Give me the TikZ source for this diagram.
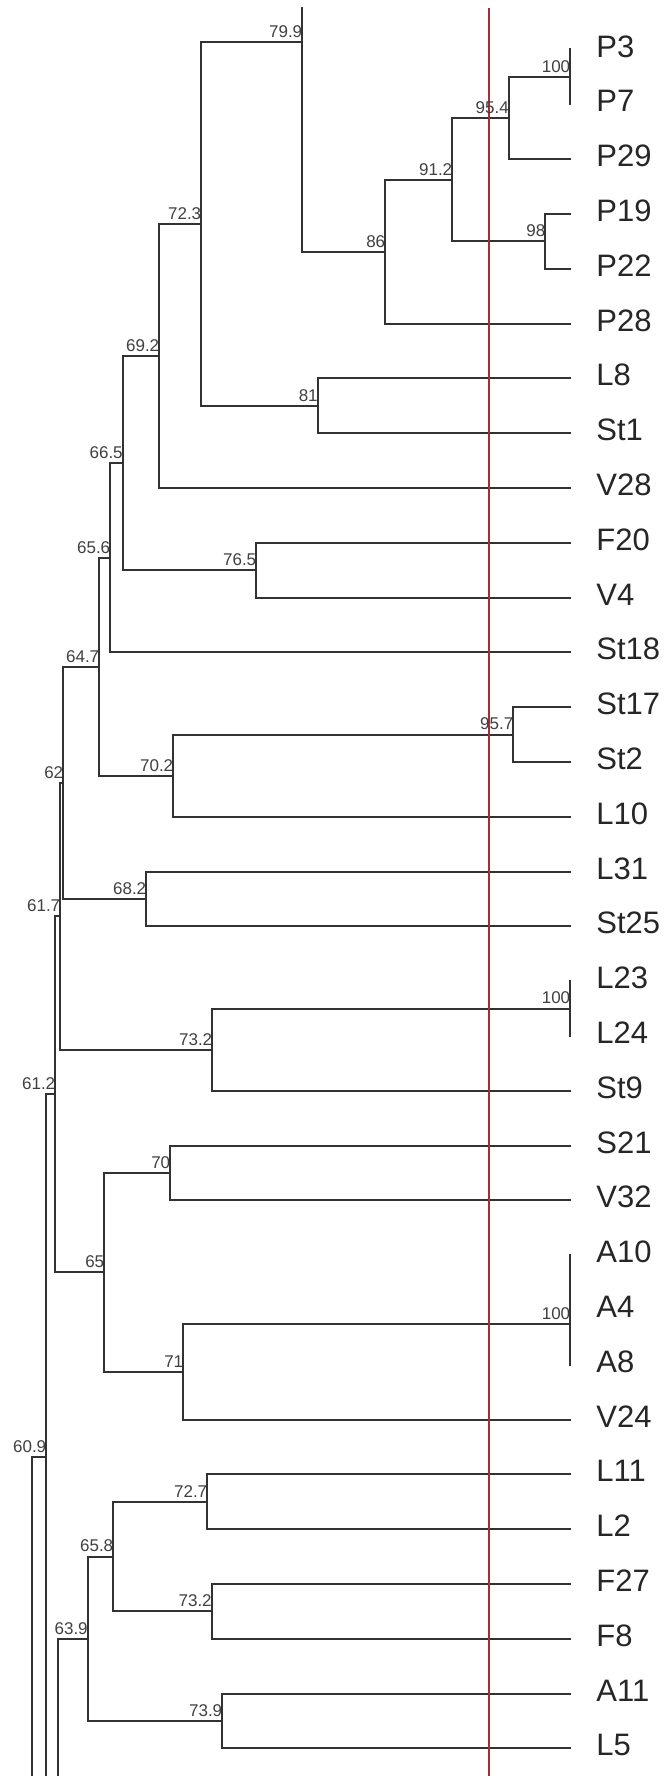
\documentclass[tikz,border=0pt]{standalone}
\usepackage{fontspec}
\setmainfont{Liberation Sans}
\usepackage{xcolor}
\definecolor{branchgray}{RGB}{50,50,50}
\definecolor{cutred}{RGB}{165,45,55}

\begin{document}
\begin{tikzpicture}[
  x=0.5pt, y=-0.5pt,
  branch/.style={draw=branchgray, line width=1pt, line cap=rect},
  leaf/.style={anchor=west, inner sep=0pt, text=black!85, font=\fontsize{15.5}{18}\selectfont},
  val/.style={anchor=south east, inner sep=0pt, xshift=0.3pt, yshift=2pt, text=black!75, font=\fontsize{8.5}{10}\selectfont},
  cutline/.style={draw=cutred, line width=0.8pt},
]
\useasboundingbox[fill=white] (0,0) rectangle (670,1776);

% leaves, top to bottom
\foreach \name [count=\i from 0] in {P3,P7,P29,P19,P22,P28,L8,St1,V28,F20,V4,St18,St17,St2,L10,L31,St25,L23,L24,St9,S21,V32,A10,A4,A8,V24,L11,L2,F27,F8,A11,L5}{
  \coordinate (\name) at (570,{49.5+54.8*\i});
  \node[leaf] (lab\name) at ([xshift=13pt,yshift=1.5pt]\name) {\name};
}

% internal nodes
\coordinate (n100a) at (570,76.9);
\coordinate (n954) at (508.5,118);
\coordinate (n98) at (545,241.3);
\coordinate (n912) at (452,179.7);
\coordinate (n86) at (385,251.6);
\coordinate (n799) at (302,42);
\coordinate (n81) at (317.5,405.7);
\coordinate (n723) at (201,223.9);
\coordinate (n692) at (159,355.9);
\coordinate (n765) at (256,570.1);
\coordinate (n665) at (122.5,463);
\coordinate (n656) at (110,557.7);
\coordinate (n957) at (513,734.5);
\coordinate (n702) at (173,775.6);
\coordinate (n647) at (99,666.6);
\coordinate (n682) at (146,898.9);
\coordinate (n62) at (63,782.8);
\coordinate (n100b) at (570,1008.5);
\coordinate (n732a) at (212,1049.6);
\coordinate (n617) at (60,916.2);
\coordinate (n70) at (170,1172.9);
\coordinate (n100c) at (570,1323.6);
\coordinate (n71) at (183,1371.6);
\coordinate (n65) at (104,1272.2);
\coordinate (n612) at (55,1094.2);
\coordinate (n727) at (207,1501.7);
\coordinate (n732b) at (211.5,1611.3);
\coordinate (n658) at (113,1556.5);
\coordinate (n739) at (222,1720.9);
\coordinate (n639) at (87.5,1638.7);
\coordinate (n609) at (46,1457);
\coordinate (m639) at (57.5,1638.7);
\coordinate (m609) at (32,1457);
% where the cut-off branches leave the picture
\coordinate (cut799) at (302,8);
\coordinate (cut609) at (46,1776);
\coordinate (cutm639) at (57.5,1776);
\coordinate (cutm609) at (32,1776);
\coordinate (redtop) at (489,8);
\coordinate (redbot) at (489,1776);

% branches
\draw[branch] (n100a) |- (P3) (n100a) |- (P7);
\draw[branch] (n954) |- (n100a) (n954) |- (P29);
\draw[branch] (n98) |- (P19) (n98) |- (P22);
\draw[branch] (n912) |- (n954) (n912) |- (n98);
\draw[branch] (n86) |- (n912) (n86) |- (P28);
\draw[branch] (n799) |- (n86) (n799) -- (cut799);
\draw[branch] (n81) |- (L8) (n81) |- (St1);
\draw[branch] (n723) |- (n799) (n723) |- (n81);
\draw[branch] (n692) |- (n723) (n692) |- (V28);
\draw[branch] (n765) |- (F20) (n765) |- (V4);
\draw[branch] (n665) |- (n692) (n665) |- (n765);
\draw[branch] (n656) |- (n665) (n656) |- (St18);
\draw[branch] (n957) |- (St17) (n957) |- (St2);
\draw[branch] (n702) |- (n957) (n702) |- (L10);
\draw[branch] (n647) |- (n656) (n647) |- (n702);
\draw[branch] (n682) |- (L31) (n682) |- (St25);
\draw[branch] (n62) |- (n647) (n62) |- (n682);
\draw[branch] (n100b) |- (L23) (n100b) |- (L24);
\draw[branch] (n732a) |- (n100b) (n732a) |- (St9);
\draw[branch] (n617) |- (n62) (n617) |- (n732a);
\draw[branch] (n70) |- (S21) (n70) |- (V32);
\draw[branch] (n100c) |- (A10) (n100c) |- (A8);
\draw[branch] (n71) |- (n100c) (n71) |- (V24);
\draw[branch] (n65) |- (n70) (n65) |- (n71);
\draw[branch] (n612) |- (n617) (n612) |- (n65);
\draw[branch] (n609) |- (n612) (n609) -- (cut609);
\draw[branch] (m609) |- (n609) (m609) -- (cutm609);
\draw[branch] (n727) |- (L11) (n727) |- (L2);
\draw[branch] (n732b) |- (F27) (n732b) |- (F8);
\draw[branch] (n658) |- (n727) (n658) |- (n732b);
\draw[branch] (n739) |- (A11) (n739) |- (L5);
\draw[branch] (n639) |- (n658) (n639) |- (n739);
\draw[branch] (m639) |- (n639) (m639) -- (cutm639);

% cut level
\draw[cutline] (redtop) -- (redbot);

% similarity values
\foreach \n/\v in {n100a/100,n954/95.4,n98/98,n912/91.2,n86/86,n799/79.9,n81/81,
  n723/72.3,n692/69.2,n765/76.5,n665/66.5,n656/65.6,n957/95.7,n702/70.2,n647/64.7,
  n682/68.2,n62/62,n100b/100,n732a/73.2,n617/61.7,n70/70,n100c/100,n71/71,n65/65,
  n612/61.2,n727/72.7,n732b/73.2,n658/65.8,n739/73.9,n639/63.9,n609/60.9}
  \node[val] (v\n) at (\n) {\v};
\end{tikzpicture}
\end{document}
